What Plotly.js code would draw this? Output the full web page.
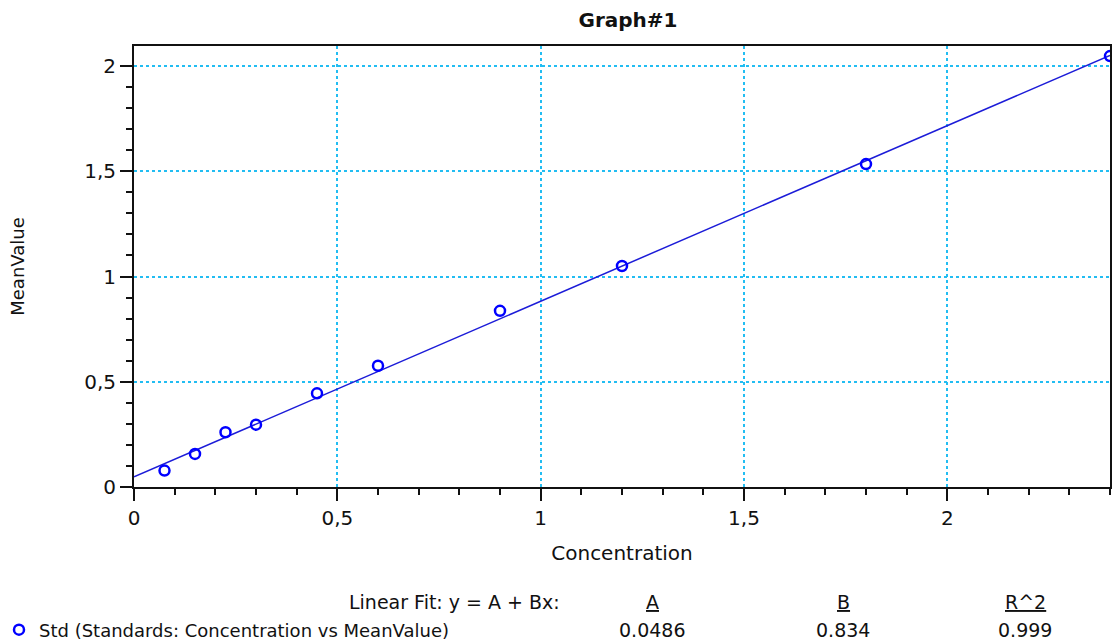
<!DOCTYPE html>
<html>
<head>
<meta charset="utf-8">
<script src="https://cdn.plot.ly/plotly-3.0.1.min.js"></script>
<style>html,body{margin:0;padding:0;background:#fff;}#chart{width:1112px;height:641px;}</style>
</head>
<body>
<div id="chart"></div>
<script>
// Data
const concentration = [0.075, 0.15, 0.225, 0.3, 0.45, 0.6, 0.9, 1.2, 1.8, 2.4];
const meanValue = [0.078, 0.157, 0.26, 0.296, 0.445, 0.576, 0.837, 1.05, 1.534, 2.047];
const fitA = 0.0486;
const fitB = 0.834;
const fitR2 = 0.999;
const fitX = [0, 2.4];
const seriesName = 'Std (Standards: Concentration vs MeanValue)';
const fitHeader = 'Linear Fit: y = A + Bx:';
const paramNames = ['A', 'B', 'R^2'];
const paramValues = [fitA.toString(), fitB.toString(), fitR2.toString()];

const fitY = fitX.map(x => fitA + fitB * x);

const FONT = 'DejaVu Sans, Verdana, sans-serif';
const L = 134, R = 1110, T = 46, B = 487;
const px2x = p => (p - L) / (R - L);
const px2y = p => (B - p) / (B - T);

const traces = [
  {
    x: fitX, y: fitY, type: 'scatter', mode: 'lines',
    line: {color: '#1c1cd8', width: 1.5},
    showlegend: false, hoverinfo: 'skip'
  },
  {
    x: concentration, y: meanValue, type: 'scatter', mode: 'markers',
    name: seriesName,
    marker: {symbol: 'circle-open', size: 10, color: '#0000ff', line: {width: 2.5, color: '#0000ff'}},
    showlegend: true
  }
];

const paramX = [652, 843, 1025];
const annotations = [
  {text: fitHeader, x: px2x(562), y: px2y(602), xanchor: 'right', yanchor: 'middle'}
];
paramNames.forEach((n, i) => {
  annotations.push({text: '<u>' + n + '</u>', x: px2x(paramX[i]), y: px2y(602), xanchor: 'center', yanchor: 'middle'});
  annotations.push({text: paramValues[i], x: px2x(paramX[i]), y: px2y(630), xanchor: 'center', yanchor: 'middle'});
});
annotations.forEach(a => {
  a.xref = 'paper'; a.yref = 'paper'; a.showarrow = false;
  a.font = {family: FONT, size: 19, color: '#111'};
});

const axisCommon = {
  showline: true, mirror: true, linecolor: '#111', linewidth: 2,
  ticks: 'outside', ticklen: 12, tickwidth: 2, tickcolor: '#111',
  showgrid: true, gridcolor: '#22bdf2', gridwidth: 1.5, griddash: 'dot',
  zeroline: false, automargin: false,
  tickfont: {family: FONT, size: 20, color: '#111'},
  minor: {dtick: 0.1, ticklen: 6, tickwidth: 2, tickcolor: '#111', showgrid: false, ticks: 'outside'}
};

const layout = {
  width: 1112, height: 641,
  margin: {l: L, r: 1112 - R, t: T, b: 641 - B, autoexpand: false},
  paper_bgcolor: '#fff', plot_bgcolor: '#fff',
  separators: ',.',
  title: {text: 'Graph#1', font: {family: FONT, size: 20, weight: 'bold', color: '#111'},
          x: px2x(628), xref: 'paper', xanchor: 'center', y: 1 - 20 / 641, yref: 'container', yanchor: 'middle'},
  xaxis: Object.assign({}, axisCommon, {
    range: [0, 2.4], dtick: 0.5, tick0: 0,
    title: {text: 'Concentration', font: {family: FONT, size: 20, color: '#111'}, standoff: 17}
  }),
  yaxis: Object.assign({}, axisCommon, {
    range: [0, 2.095], dtick: 0.5, tick0: 0,
    title: {text: 'MeanValue', font: {family: FONT, size: 18, color: '#111'}, standoff: 55}
  }),
  showlegend: true,
  legend: {
    x: px2x(-1), y: px2y(630), xanchor: 'left', yanchor: 'middle',
    xref: 'paper', yref: 'paper',
    bgcolor: 'rgba(0,0,0,0)', borderwidth: 0,
    font: {family: FONT, size: 18, color: '#111'}
  },
  annotations: annotations
};

Plotly.newPlot('chart', traces, layout, {displayModeBar: false, responsive: false});
</script>
</body>
</html>
